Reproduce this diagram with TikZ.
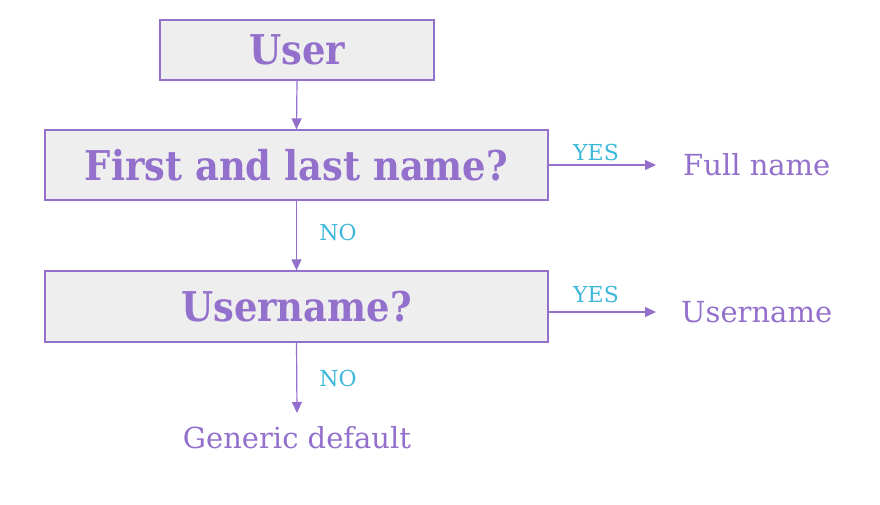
\documentclass[tikz,border=0pt]{standalone}
\usepackage{fontspec}
\setmainfont{DejaVu Serif}
\newfontfamily\condfont[FakeStretch=0.9]{DejaVu Serif}
\usetikzlibrary{arrows.meta}
\definecolor{purp}{HTML}{9370CC}
\definecolor{cyanlbl}{HTML}{3DB8DA}
\definecolor{boxfill}{HTML}{EEEEEE}
\tikzset{
  qbox/.style={draw=purp, line width=1.3pt, fill=boxfill, text=purp, font=\condfont\bfseries\fontsize{41}{43}\selectfont, inner sep=0pt, anchor=center},
  outtext/.style={text=purp, font=\fontsize{29}{31}\selectfont, inner sep=0pt},
  lbl/.style={text=cyanlbl, font=\fontsize{22}{24}\selectfont, inner sep=0pt},
  conn/.style={draw=purp, line width=1.2pt, -{Triangle[length=11pt,width=10pt]}},
}
\begin{document}
\begin{tikzpicture}[x=1pt,y=-1pt]
\useasboundingbox (0,0) rectangle (880,504);
\node[qbox, minimum width=274pt, minimum height=60pt] (user) at (297,50) {User};
\node[qbox, minimum width=503pt, minimum height=70pt] (first) at (296.5,165) {First and last name?};
\node[qbox, minimum width=503pt, minimum height=71pt] (uname) at (296.5,306.5) {Username?};
\coordinate (gtop) at (297,413);
\node[outtext, anchor=north] (generic) at (297,426) {Generic default};
\coordinate (fend) at (656,165);
\coordinate (uend) at (656,312);
\node[outtext, anchor=west] (full) at (683,165) {Full name};
\node[outtext, anchor=west] (usr) at (681,312) {Username};
\draw[conn] (user.south) -- (first.north);
\draw[conn] (first.south) -- (uname.north);
\draw[conn] (uname.south) -- (gtop);
\draw[conn] (first.east) -- (fend);
\draw[conn] (uname.east |- uend) -- (uend);
\node[lbl] (yes1) at (596,152) {YES};
\node[lbl] (yes2) at (596,294) {YES};
\node[lbl] (no1) at (338,232) {NO};
\node[lbl] (no2) at (338,378) {NO};
\end{tikzpicture}
\end{document}
